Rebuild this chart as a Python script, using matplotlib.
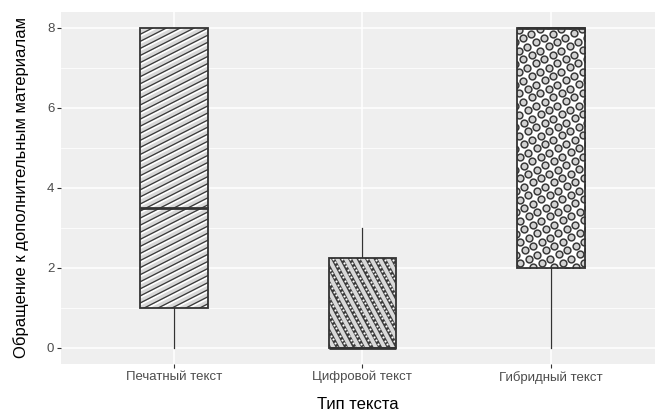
import numpy as np
import matplotlib
matplotlib.use("Agg")
import matplotlib.pyplot as plt
from matplotlib.patches import Rectangle
from matplotlib.lines import Line2D

plt.rcParams['font.family'] = ['Liberation Sans', 'DejaVu Sans']

categories = ["Печатный текст", "Цифровой текст", "Гибридный текст"]
whisker_low = [0, 0, 0]
q1 = [1, 0, 2]
median = [3.5, 0, 8]
q3 = [8, 2.25, 8]
whisker_high = [8, 3, 8]
patterns = ["stripe", "stripedots", "circles"]
yticks = [0, 2, 4, 6, 8]

W, H = 655, 417
fig = plt.figure(figsize=(W / 100, H / 100), dpi=100)
L, R, T, B = 61, 655, 12, 364
ax = fig.add_axes([L / W, (H - B) / H, (R - L) / W, (B - T) / H])
bg = "#EFEFEF"
ax.set_facecolor(bg)
ax.set_xlim(-0.6, 2.553)
ax.set_ylim(-0.4, 8.4)
for s in ax.spines.values():
    s.set_visible(False)

ax.set_yticks(yticks)
ax.set_yticks([1, 3, 5, 7], minor=True)
ax.set_xticks(range(len(categories)))
ax.set_xticklabels(categories)
ax.grid(which="major", color="white", linewidth=1.1)
ax.grid(which="minor", axis="y", color="white", linewidth=0.55)
ax.set_axisbelow(True)
ax.tick_params(which="major", length=2.8, width=0.8, color="#333333",
               labelsize=9.5, labelcolor="#4D4D4D", pad=2)
ax.tick_params(which="minor", length=0)
ax.set_xlabel("Тип текста", fontsize=12, color="black", labelpad=10)
ax.set_ylabel("Обращение к дополнительным материалам", fontsize=12,
              color="black", labelpad=13)

edge = "#333333"
bw = 0.36

fig.canvas.draw()
to_disp = ax.transData
to_data = ax.transData.inverted()


def px_to_data(points):
    return to_data.transform(points)


def draw_pattern(kind, rect, x0, x1, y0, y1):
    (dx0, dy0) = to_disp.transform((x0, y0))
    (dx1, dy1) = to_disp.transform((x1, y1))
    w = dx1 - dx0
    h = dy1 - dy0
    cx, cy = (dx0 + dx1) / 2, (dy0 + dy1) / 2
    diag = np.hypot(w, h) + 20
    if kind == "stripe":
        ang = np.deg2rad(27)
        d = np.array([np.cos(ang), np.sin(ang)])
        n = np.array([-d[1], d[0]])
        sp = 6.3
        for k in np.arange(-diag, diag, sp):
            base = np.array([cx, cy]) + n * k
            for off, col, lw in [(0.0, "white", 1.8), (1.6, "#3a3a3a", 1.3)]:
                p = base + n * off
                pts = np.array([p - d * diag, p + d * diag])
                dp = px_to_data(pts)
                ln = Line2D(dp[:, 0], dp[:, 1], color=col, lw=lw * 0.72, zorder=3)
                ax.add_line(ln)
                ln.set_clip_path(rect)
    elif kind == "stripedots":
        ang = np.deg2rad(-62)
        d = np.array([np.cos(ang), np.sin(ang)])
        n = np.array([-d[1], d[0]])
        sp = 7.5
        for k in np.arange(-diag, diag, sp):
            base = np.array([cx, cy]) + n * k
            pts = np.array([base - d * diag, base + d * diag])
            dp = px_to_data(pts)
            ln = Line2D(dp[:, 0], dp[:, 1], color="#3a3a3a", lw=3.6 * 0.72, zorder=3)
            ax.add_line(ln)
            ln.set_clip_path(rect)
            ts = np.arange(-diag, diag, 4.2)
            ppts = base[None, :] + ts[:, None] * d[None, :]
            inside = (ppts[:, 0] > dx0 - 3) & (ppts[:, 0] < dx1 + 3) & \
                     (ppts[:, 1] > dy0 - 3) & (ppts[:, 1] < dy1 + 3)
            ppts = ppts[inside]
            if len(ppts):
                dd = px_to_data(ppts)
                sc = ax.scatter(dd[:, 0], dd[:, 1], s=2.4, c="white",
                                linewidths=0, zorder=4)
                sc.set_clip_path(rect)
    elif kind == "circles":
        ang = np.deg2rad(27)
        d = np.array([np.cos(ang), np.sin(ang)])
        n = np.array([-d[1], d[0]])
        sp = 9.5
        pts = []
        for i in np.arange(-diag, diag, sp):
            for j in np.arange(-diag, diag, sp):
                p = np.array([cx, cy]) + d * i + n * j
                if dx0 - 6 < p[0] < dx1 + 6 and dy0 - 6 < p[1] < dy1 + 6:
                    pts.append(p)
        pts = np.array(pts)
        dd = px_to_data(pts)
        sc = ax.scatter(dd[:, 0], dd[:, 1], s=24, c="#D2D2D2",
                        edgecolors="#3a3a3a", linewidths=1.1, zorder=3)
        sc.set_clip_path(rect)


for i in range(len(categories)):
    x0, x1 = i - bw / 2, i + bw / 2
    if whisker_low[i] < q1[i]:
        ax.plot([i, i], [whisker_low[i], q1[i]], color=edge, lw=0.9, zorder=2)
    if whisker_high[i] > q3[i]:
        ax.plot([i, i], [q3[i], whisker_high[i]], color=edge, lw=0.9, zorder=2)
    fillc = "white" if patterns[i] == "circles" else "#D9D9D9"
    rect = Rectangle((x0, q1[i]), bw, q3[i] - q1[i], facecolor=fillc,
                     edgecolor="none", zorder=2)
    ax.add_patch(rect)
    draw_pattern(patterns[i], rect, x0, x1, q1[i], q3[i])
    outline = Rectangle((x0, q1[i]), bw, q3[i] - q1[i], facecolor="none",
                        edgecolor=edge, lw=1.3, zorder=5)
    ax.add_patch(outline)
    ax.plot([x0, x1], [median[i], median[i]], color=edge, lw=2.0,
            solid_capstyle="butt", zorder=6)

fig.savefig("out.png", dpi=100)
